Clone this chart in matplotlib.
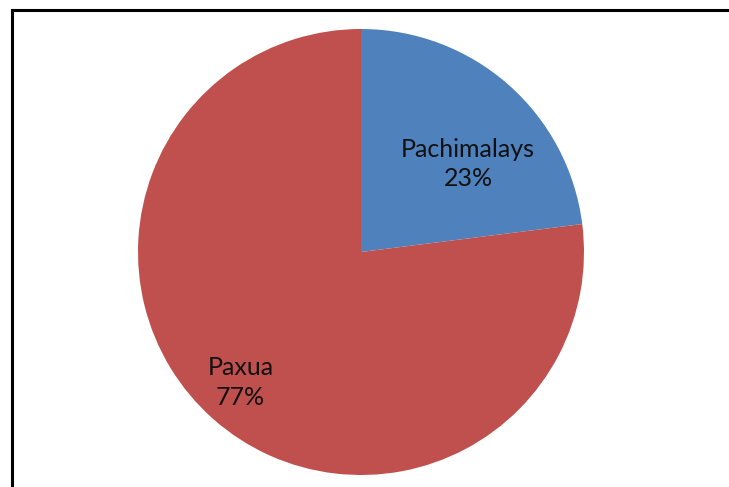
import matplotlib
matplotlib.use("Agg")
import matplotlib.pyplot as plt
from matplotlib.lines import Line2D

categories = ["Pachimalays", "Paxua"]
values = [23, 77]
colors = ["#4F81BD", "#C0504D"]

W, H = 729, 487
fig = plt.figure(figsize=(W / 100, H / 100), dpi=100)
fig.patch.set_facecolor("white")

# frame lines (top and left only visible)
fig.add_artist(Line2D([12 / W, 1], [1 - 10 / H, 1 - 10 / H], color="black", lw=2.2, transform=fig.transFigure))
fig.add_artist(Line2D([12 / W, 12 / W], [0, 1 - 10 / H], color="black", lw=2.2, transform=fig.transFigure))

cx, cy, r = 361, 252, 223
ax = fig.add_axes([(cx - r) / W, 1 - (cy + r) / H, 2 * r / W, 2 * r / H])
wedges, _ = ax.pie(values, colors=colors, startangle=90, counterclock=False,
                   radius=1.0, wedgeprops=dict(linewidth=0))
ax.set_xlim(-1, 1)
ax.set_ylim(-1, 1)
ax.set_aspect("equal")
ax.axis("off")

# label positions (axes data coords)
label_pos = [(0.48, 0.395), (-0.54, -0.585)]
total = sum(values)
for cat, v, (x, y) in zip(categories, values, label_pos):
    ax.text(x, y, f"{cat}\n{round(100 * v / total)}%", ha="center", va="center",
            fontsize=18, family=["Lato", "DejaVu Sans"], color="#111111", linespacing=1.35)

fig.savefig("out.png", dpi=100, facecolor="white")
